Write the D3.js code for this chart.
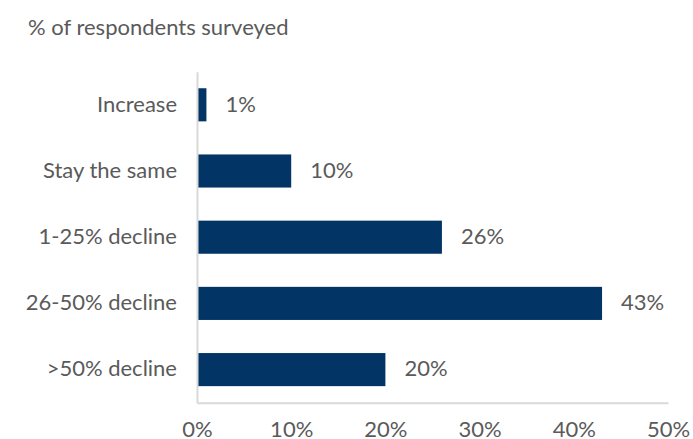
<!DOCTYPE html>
<html>
<head>
<meta charset="utf-8">
<script src="https://cdn.jsdelivr.net/npm/d3@7"></script>
<style>
  html, body { margin: 0; padding: 0; background: #fff; }
  svg { display: block; }
  text { font-family: Lato, "Open Sans", sans-serif; fill: #5a5a5a; }
</style>
</head>
<body>
<svg id="chart" width="693" height="439"></svg>
<script>
// Expected change, share of respondents
const categories = ["Increase", "Stay the same", "1-25% decline", "26-50% decline", ">50% decline"];
const values = [1, 10, 26, 43, 20];
const tickValues = [0, 10, 20, 30, 40, 50];
const tickLabels = ["0%", "10%", "20%", "30%", "40%", "50%"];
const title = "% of respondents surveyed";

const svg = d3.select("#chart");
const FONT = 22;
const plot = { left: 197, right: 668, top: 71.7, bottom: 402.7 };

const x = d3.scaleLinear().domain([0, 50]).range([plot.left, plot.right]);
const y = d3.scaleBand().domain(categories)
  .range([plot.top, plot.bottom])
  .paddingInner(0.5).paddingOuter(0.25);

// Title
svg.append("text")
  .attr("x", 28).attr("y", 35)
  .attr("font-size", FONT)
  .text(title);

// Bars
svg.append("g").selectAll("rect")
  .data(categories)
  .join("rect")
  .attr("x", x(0))
  .attr("y", d => y(d))
  .attr("width", (d, i) => x(values[i]) - x(0))
  .attr("height", y.bandwidth())
  .attr("fill", "#023466");

// Value labels
svg.append("g").selectAll("text")
  .data(categories)
  .join("text")
  .attr("x", (d, i) => x(values[i]) + 19)
  .attr("y", d => y(d) + y.bandwidth() / 2)
  .attr("dy", "0.31em")
  .attr("font-size", FONT)
  .text((d, i) => values[i] + "%");

// Category axis (left)
const yAxis = svg.append("g")
  .attr("transform", `translate(${plot.left},0)`)
  .call(d3.axisLeft(y).tickSize(0).tickPadding(20));
yAxis.select(".domain").attr("stroke", "#d9d9d9").attr("stroke-width", 2);
yAxis.selectAll("text")
  .attr("font-size", FONT)
  .attr("dy", "0.31em")
  .attr("fill", "#5a5a5a")
  .attr("font-family", "Lato, 'Open Sans', sans-serif");

// Value axis (bottom)
const xAxis = svg.append("g")
  .attr("transform", `translate(0,${plot.bottom})`)
  .call(d3.axisBottom(x).tickValues(tickValues)
    .tickFormat((d, i) => tickLabels[i])
    .tickSize(0).tickPadding(19));
xAxis.select(".domain").attr("stroke", "#d9d9d9").attr("stroke-width", 2);
xAxis.selectAll("text")
  .attr("font-size", FONT)
  .attr("fill", "#5a5a5a")
  .attr("font-family", "Lato, 'Open Sans', sans-serif");
</script>
</body>
</html>
